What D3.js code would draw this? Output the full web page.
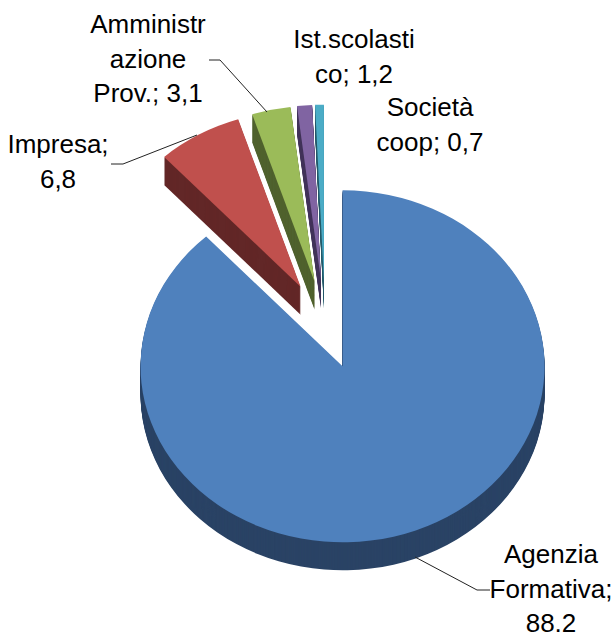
<!DOCTYPE html>
<html lang="en">
<head>
<meta charset="UTF-8">
<title>Pie chart</title>
<script src="https://d3js.org/d3.v7.min.js"></script>
<style>
    html, body { margin: 0; padding: 0; background: #fff; overflow: hidden; }
    text { font-family: "Liberation Sans", Arial, sans-serif; font-size: 26px; fill: #000; }
</style>
</head>
<body>
<script>
    // data
    const categories = ["Agenzia Formativa", "Impresa", "Amministrazione Prov.", "Ist.scolastico", "Società coop"];
    const values = [88.2, 6.8, 3.1, 1.2, 0.7];
    const labelLines = [
        ["Agenzia", "Formativa;", "88,2"],
        ["Impresa;", "6,8"],
        ["Amministr", "azione", "Prov.; 3,1"],
        ["Ist.scolasti", "co; 1,2"],
        ["Società", "coop; 0,7"]
    ];
    const topColors = ["#4f81bd", "#c0504d", "#9bbb59", "#8064a2", "#4bacc6"];
    const sideColors = ["#2a4365", "#632828", "#50622e", "#42345a", "#275c6b"];

    // layout
    const width = 613, height = 632;
    const center = { x: 325, y: 325 };
    const rx = 202, ry = 176, depth = 28;
    const explodeX = 0.24, explodeY = 0.252;
    const lineHeight = 34.5;
    const labelPos = [
        { x: 551, y: 563 },
        { x: 58, y: 153 },
        { x: 148, y: 33 },
        { x: 354, y: 48 },
        { x: 430, y: 116 }
    ];
    const leaders = [
        [[415, 557], [477, 590], [490, 590]],
        [[197, 135], [123, 164], [111, 164]],
        [[267, 112], [220, 60], [209, 60]]
    ];

    const svg = d3.select("body").append("svg")
        .attr("width", width)
        .attr("height", height);

    const pie = d3.pie().sort(null);
    const arcs = pie(values);
    const arc = d3.arc().innerRadius(0).outerRadius(rx);
    const yScale = ry / rx;

    // each slice moves out along its own bisector
    const offset = d => {
        const mid = (d.startAngle + d.endAngle) / 2;
        return {
            x: center.x + explodeX * rx * Math.sin(mid),
            y: center.y - explodeY * ry * Math.cos(mid)
        };
    };

    const slices = svg.selectAll("g.slice")
        .data(arcs)
        .enter().append("g")
        .attr("class", "slice");

    // side wall: copies of the face stepped down by depth
    slices.each(function(d, i) {
        const o = offset(d);
        d3.select(this).selectAll("path.side")
            .data(d3.range(depth, 0, -1))
            .enter().append("path")
            .attr("class", "side")
            .attr("d", arc(d))
            .attr("fill", sideColors[i])
            .attr("transform", s => `translate(${o.x},${o.y + s}) scale(1,${yScale})`);
    });

    slices.append("path")
        .attr("d", d => arc(d))
        .attr("fill", (d, i) => topColors[i])
        .attr("transform", d => {
            const o = offset(d);
            return `translate(${o.x},${o.y}) scale(1,${yScale})`;
        });

    // leader lines
    const line = d3.line();
    svg.selectAll("path.leader")
        .data(leaders)
        .enter().append("path")
        .attr("class", "leader")
        .attr("d", line)
        .attr("fill", "none")
        .attr("stroke", "#222")
        .attr("stroke-width", 1);

    // labels
    svg.selectAll("text.label")
        .data(labelLines)
        .enter().append("text")
        .attr("class", "label")
        .attr("text-anchor", "middle")
        .each(function(lines, i) {
            d3.select(this).selectAll("tspan")
                .data(lines)
                .enter().append("tspan")
                .attr("x", labelPos[i].x)
                .attr("y", (l, j) => labelPos[i].y + j * lineHeight)
                .text(l => l);
        });
</script>
</body>
</html>
